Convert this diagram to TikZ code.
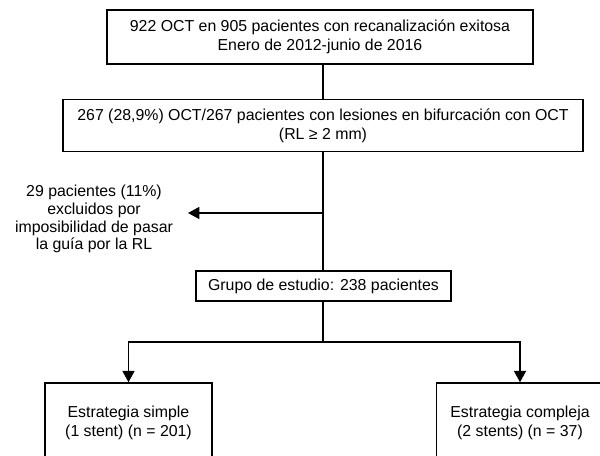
\documentclass[tikz,border=0pt]{standalone}
\usepackage{fontspec}
\setmainfont{Liberation Sans}
\usetikzlibrary{arrows.meta, positioning}
\tikzstyle{box} = [rectangle, draw=black, line width=1.1pt, align=center, text centered, inner sep=0pt, font=\fontsize{11.9}{14.5}\selectfont]
\tikzstyle{note} = [align=center, inner sep=0pt, font=\fontsize{11.9}{13.4}\selectfont]
\tikzstyle{line} = [line width=1.1pt]
\tikzstyle{arrow} = [line width=1.1pt, -{Triangle[length=8.5pt, width=9pt]}]

\begin{document}
\begin{tikzpicture}[x=0.75pt, y=-0.75pt]
\useasboundingbox (0,0) rectangle (600,456);

% Inclusion
\node (total) [box, minimum width=319.5pt, minimum height=40.5pt] at (320,37) {922 OCT en 905 pacientes con recanalización exitosa\\Enero de 2012-junio de 2016};
\node (bifurc) [box, minimum width=390pt, minimum height=39pt] at (323,125.5) {267 (28,9\%) OCT/267 pacientes con lesiones en bifurcación con OCT\\(RL ≥ 2 mm)};

% Exclusion
\node (excl) [note] at (94,219) {29 pacientes (11\%)\\excluidos por\\imposibilidad de pasar\\la guía por la RL};
\coordinate (tip) at (188,213);
\coordinate (branch) at (323,213);

% Study group
\node (grupo) [box, minimum width=191.25pt, minimum height=22.5pt] at (323.5,286) {Grupo de estudio: 238 pacientes};

% Strategies
\node (simple) [box, minimum width=125.25pt, minimum height=60pt] at (128.5,423) {Estrategia simple\\(1 stent) (n = 201)};
\node (compleja) [box, minimum width=125.25pt, minimum height=60pt] at (520,423) {Estrategia compleja\\(2 stents) (n = 37)};
\coordinate (split) at (323,342);

% Connections
\draw [line, line width=1.6pt] (total.south -| branch) -- (bifurc.north -| branch);
\draw [line] (bifurc.south -| branch) -- (grupo.north -| branch);
\draw [arrow] (branch) -- (tip);
\draw [line] (grupo.south -| split) -- (split);
\draw [arrow] (split) -| (simple.north);
\draw [arrow] (split) -| (compleja.north);

\end{tikzpicture}
\end{document}
